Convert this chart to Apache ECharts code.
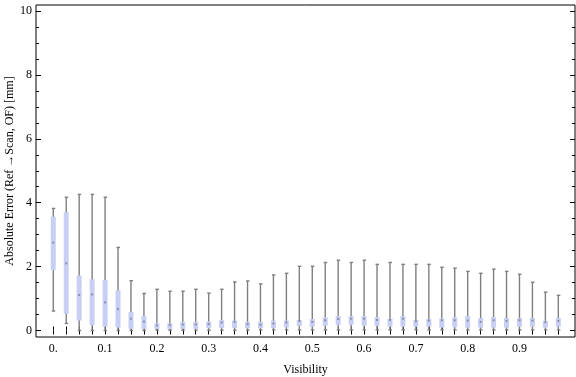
<!DOCTYPE html>
<html>
<head>
<meta charset="utf-8">
<script src="https://cdn.jsdelivr.net/npm/echarts@6/dist/echarts.min.js"></script>
<style>
html, body { margin: 0; padding: 0; background: #fff; }
#chart { width: 576px; height: 377px; }
</style>
</head>
<body>
<div id="chart"></div>
<script>
// visibility classes (one box each)
var visibility = [0, 0.025, 0.05, 0.075, 0.1, 0.125, 0.15, 0.175, 0.2, 0.225,
	0.25, 0.275, 0.3, 0.325, 0.35, 0.375, 0.4, 0.425, 0.45, 0.475,
	0.5, 0.525, 0.55, 0.575, 0.6, 0.625, 0.65, 0.675, 0.7, 0.725,
	0.75, 0.775, 0.8, 0.825, 0.85, 0.875, 0.9, 0.925, 0.95, 0.975];
var xTickLabels = ['0.', '0.1', '0.2', '0.3', '0.4', '0.5', '0.6', '0.7', '0.8', '0.9'];

// box-whisker statistics, absolute error in mm
var whiskerLow = [0.61, 0.22, 0, 0, 0, 0, 0, 0, 0.01, 0.01,
	0.01, 0.01, 0.01, 0.01, 0.01, 0.01, 0.02, 0.02, 0.02, 0.02,
	0.02, 0.02, 0.02, 0.02, 0.02, 0.02, 0.02, 0.02, 0.02, 0.02,
	0.02, 0.02, 0.02, 0.02, 0.02, 0.02, 0.02, 0.02, 0.02, 0.02];
var quart1 = [1.89, 0.52, 0.31, 0.17, 0.12, 0.09, 0.05, 0.05, 0.05, 0.04,
	0.05, 0.05, 0.07, 0.08, 0.08, 0.07, 0.08, 0.08, 0.10, 0.14,
	0.12, 0.15, 0.18, 0.18, 0.15, 0.15, 0.12, 0.12, 0.12, 0.12,
	0.09, 0.10, 0.09, 0.09, 0.09, 0.09, 0.12, 0.12, 0.09, 0.12];
var median = [2.75, 2.10, 1.11, 1.13, 0.88, 0.67, 0.37, 0.28, 0.16, 0.17,
	0.19, 0.19, 0.20, 0.25, 0.27, 0.20, 0.18, 0.22, 0.25, 0.30,
	0.27, 0.32, 0.36, 0.37, 0.37, 0.33, 0.33, 0.37, 0.29, 0.31,
	0.32, 0.32, 0.31, 0.27, 0.32, 0.30, 0.32, 0.31, 0.26, 0.30];
var quart3 = [3.56, 3.70, 1.72, 1.60, 1.58, 1.26, 0.58, 0.45, 0.23, 0.23,
	0.27, 0.27, 0.28, 0.33, 0.31, 0.27, 0.27, 0.31, 0.31, 0.33,
	0.36, 0.41, 0.45, 0.45, 0.45, 0.42, 0.37, 0.45, 0.33, 0.36,
	0.38, 0.41, 0.45, 0.39, 0.42, 0.39, 0.39, 0.39, 0.30, 0.39];
var whiskerHigh = [3.82, 4.17, 4.26, 4.26, 4.17, 2.60, 1.56, 1.16, 1.29, 1.23,
	1.23, 1.29, 1.17, 1.29, 1.52, 1.55, 1.46, 1.74, 1.79, 2.01,
	2.01, 2.13, 2.20, 2.13, 2.20, 2.07, 2.13, 2.07, 2.07, 2.07,
	1.98, 1.95, 1.85, 1.79, 1.92, 1.85, 1.76, 1.51, 1.20, 1.10];
var yTicks = [0, 2, 4, 6, 8, 10];

var boxData = visibility.map(function(v, i) {
	return [i, whiskerLow[i], quart1[i], median[i], quart3[i], whiskerHigh[i]];
});

var font = 'Liberation Serif';

function renderBox(params, api) {
	var i = api.value(0);
	var lo = api.coord([i, api.value(1)]);
	var q1 = api.coord([i, api.value(2)]);
	var md = api.coord([i, api.value(3)]);
	var q3 = api.coord([i, api.value(4)]);
	var hi = api.coord([i, api.value(5)]);
	var x = lo[0];
	var bw = 5;
	var gray = '#7f7f7f';
	return {
		type: 'group',
		children: [
			{ type: 'line', shape: { x1: x, y1: lo[1], x2: x, y2: hi[1] },
				style: { stroke: gray, lineWidth: 1.4 } },
			{ type: 'line', shape: { x1: x - 1.5, y1: hi[1], x2: x + 2, y2: hi[1] },
				style: { stroke: gray, lineWidth: 1.4 } },
			{ type: 'line', shape: { x1: x - 1.5, y1: lo[1], x2: x + 2, y2: lo[1] },
				style: { stroke: gray, lineWidth: 1.4 } },
			{ type: 'rect', shape: { x: x - bw / 2, y: q3[1], width: bw, height: q1[1] - q3[1] },
				style: { fill: '#c8cff5' } },
			{ type: 'rect', shape: { x: x - 1, y: md[1] - 1, width: 2, height: 2 },
				style: { fill: '#8c8fa8' } }
		]
	};
}

var chart = echarts.init(document.getElementById('chart'));
var option = {
	animation: false,
	grid: [
		{ left: 36, top: 5, width: 539, height: 332, show: true, outerBoundsMode: 'none',
			borderColor: '#000', borderWidth: 1, backgroundColor: 'transparent' },
		{ left: 46.8, top: 11, width: 518, height: 319.5, outerBoundsMode: 'none' }
	],
	xAxis: [
		{
			gridIndex: 0, type: 'value', min: 0, max: 1,
			axisLine: { show: false }, axisTick: { show: false },
			axisLabel: { show: false }, splitLine: { show: false },
			name: 'Visibility', nameLocation: 'middle', nameGap: 27,
			nameTextStyle: { fontFamily: font, fontSize: 12, color: '#000' }
		},
		{
			gridIndex: 1, type: 'category', data: visibility, position: 'bottom',
			boundaryGap: true, offset: 6.8,
			axisLine: { show: false },
			axisTick: { show: true, inside: true, length: 4, alignWithLabel: true, interval: 0,
				lineStyle: { color: '#000' } },
			axisLabel: { interval: 3, margin: 6, fontFamily: font, fontSize: 12, color: '#000',
				formatter: function(val, idx) { return xTickLabels[idx / 4]; } },
			splitLine: { show: false }
		},
		{
			gridIndex: 1, type: 'category', data: visibility, position: 'top',
			boundaryGap: true, offset: 6,
			axisLine: { show: false },
			axisTick: { show: true, inside: true, length: 4, alignWithLabel: true, interval: 0,
				lineStyle: { color: '#000' } },
			axisLabel: { show: false },
			splitLine: { show: false }
		}
	],
	yAxis: [
		{
			gridIndex: 0, type: 'value', min: 0, max: 1,
			axisLine: { show: false }, axisTick: { show: false },
			axisLabel: { show: false }, splitLine: { show: false },
			name: 'Absolute Error (Ref →Scan, OF) [mm]', nameLocation: 'middle', nameGap: 20,
			nameTextStyle: { fontFamily: font, fontSize: 12, color: '#000' }
		},
		{
			gridIndex: 1, type: 'value', min: yTicks[0], max: yTicks[yTicks.length - 1], interval: 2,
			position: 'left', offset: 10.8,
			axisLine: { show: false },
			axisTick: { show: true, inside: true, length: 5, lineStyle: { color: '#000' } },
			minorTick: { show: true, splitNumber: 4, length: 3, lineStyle: { color: '#000' } },
			axisLabel: { margin: 4, fontFamily: font, fontSize: 12, color: '#000' },
			splitLine: { show: false }
		},
		{
			gridIndex: 1, type: 'value', min: yTicks[0], max: yTicks[yTicks.length - 1], interval: 2,
			position: 'right', offset: 10.2,
			axisLine: { show: false },
			axisTick: { show: true, inside: true, length: 5, lineStyle: { color: '#000' } },
			minorTick: { show: true, splitNumber: 4, length: 3, lineStyle: { color: '#000' } },
			axisLabel: { show: false },
			splitLine: { show: false }
		}
	],
	series: [
		{
			type: 'custom',
			xAxisIndex: 1,
			yAxisIndex: 1,
			renderItem: renderBox,
			encode: { x: 0, y: [1, 2, 3, 4, 5] },
			data: boxData,
			clip: false
		}
	]
};
chart.setOption(option);
</script>
</body>
</html>
